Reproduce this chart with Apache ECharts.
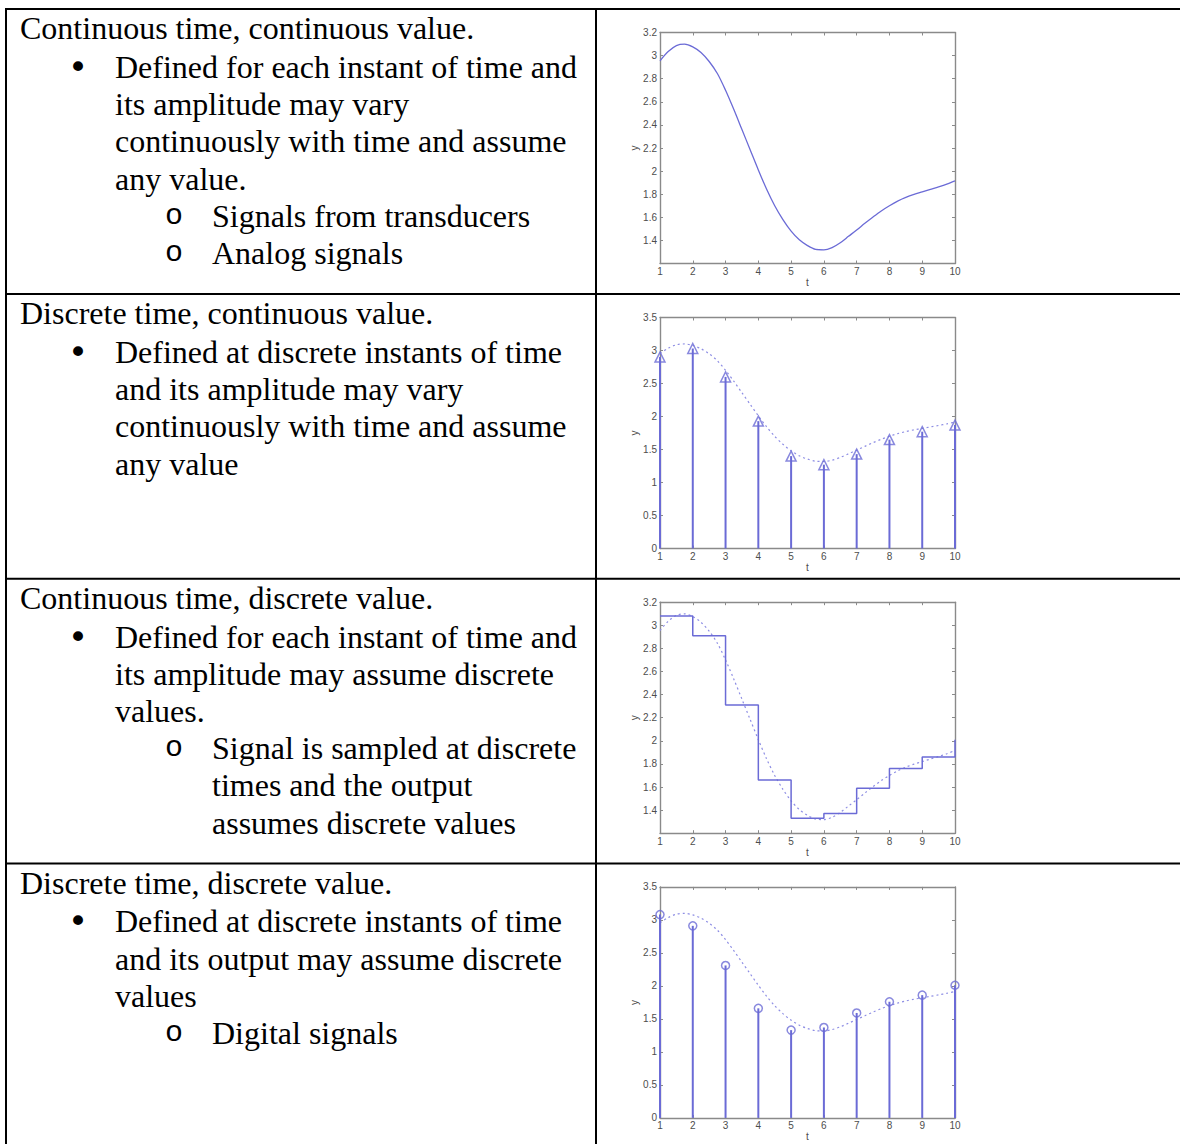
<!DOCTYPE html>
<html>
<head>
<meta charset="utf-8">
<title>Signal types</title>
<script src="https://cdn.jsdelivr.net/npm/echarts@6/dist/echarts.min.js"></script>
<style>
  html, body { margin: 0; padding: 0; background: #fff; }
  #chart { width: 1180px; height: 1144px; }
</style>
</head>
<body>
<div id="chart"></div>
<script>
// ---- data ----
// continuous signal y(t)
const curveT = [1, 1.25, 1.5, 1.75, 2, 2.25, 2.5, 2.75, 3, 3.25, 3.5, 3.75, 4, 4.25, 4.5, 4.75,
  5, 5.25, 5.5, 5.75, 6, 6.25, 6.5, 6.75, 7, 7.25, 7.5, 7.75, 8, 8.25, 8.5, 8.75, 9, 9.25, 9.5, 9.75, 10];
const curveY = [2.955, 3.035, 3.087, 3.099, 3.076, 3.027, 2.949, 2.845, 2.70, 2.535, 2.36, 2.185,
  2.01, 1.845, 1.70, 1.58, 1.48, 1.405, 1.355, 1.322, 1.318, 1.338, 1.38, 1.435, 1.49, 1.548,
  1.603, 1.655, 1.70, 1.74, 1.772, 1.798, 1.82, 1.842, 1.864, 1.888, 1.916];
// sampling instants
const sampleT = [1, 2, 3, 4, 5, 6, 7, 8, 9, 10];
// samples with continuous amplitude
const sampledY = [2.90, 3.03, 2.60, 1.93, 1.40, 1.27, 1.43, 1.65, 1.77, 1.87];
// quantised samples
const quantY = [3.08, 2.91, 2.31, 1.66, 1.33, 1.37, 1.59, 1.76, 1.86, 2.01];

// table text: T = heading, B = bullet, b = bullet continuation, S = sub-bullet, s = continuation
const row1Text = [
  ['T', 'Continuous time, continuous value.'],
  ['B', 'Defined for each instant of time and'],
  ['b', 'its amplitude may vary'],
  ['b', 'continuously with time and assume'],
  ['b', 'any value.'],
  ['S', 'Signals from transducers'],
  ['S', 'Analog signals']
];
const row2Text = [
  ['T', 'Discrete time, continuous value.'],
  ['B', 'Defined at discrete instants of time'],
  ['b', 'and its amplitude may vary'],
  ['b', 'continuously with time and assume'],
  ['b', 'any value']
];
const row3Text = [
  ['T', 'Continuous time, discrete value.'],
  ['B', 'Defined for each instant of time and'],
  ['b', 'its amplitude may assume discrete'],
  ['b', 'values.'],
  ['S', 'Signal is sampled at discrete'],
  ['s', 'times and the output'],
  ['s', 'assumes discrete values']
];
const row4Text = [
  ['T', 'Discrete time, discrete value.'],
  ['B', 'Defined at discrete instants of time'],
  ['b', 'and its output may assume discrete'],
  ['b', 'values'],
  ['S', 'Digital signals']
];

// ---- layout ----
const W = 1180, H = 1144;
const rowTops = [9, 294, 578.7, 863.4];
const colX = 596;
const plotLeft = 660, plotW = 295, plotH = 231;
const BLUE = '#6b6bd6';
const DOT_BLUE = '#8e8ee4';
const AXIS_GREY = '#8a8a8a';
const LABEL_GREY = '#4d4d4d';

const pair = (xs, ys) => xs.map((x, i) => [x, ys[i]]);

const graphic = [];
// table rules
const rule = (x1, y1, x2, y2) => graphic.push({
  type: 'line', silent: true,
  shape: { x1, y1, x2, y2 },
  style: { stroke: '#000', lineWidth: 2 }
});
rule(6, 8, 6, H);
rule(colX, 8, colX, H);
rule(5, 9, W, 9);
rowTops.slice(1).forEach(y => rule(5, y, W, y));

// table text
const textX = { T: 20, B: 115, b: 115, S: 212, s: 212 };
const serif = '"Liberation Serif", "Times New Roman", serif';
function addText(lines, top) {
  lines.forEach((ln, i) => {
    const y = top + 19.5 + i * 37.2 + (i > 0 ? 1.5 : 0) - 0.3;
    graphic.push({
      type: 'text', silent: true,
      style: { text: ln[1], x: textX[ln[0]], y, fill: '#000',
        font: '32px ' + serif, align: 'left', verticalAlign: 'middle' }
    });
    if (ln[0] === 'B') {
      graphic.push({
        type: 'text', silent: true,
        style: { text: '\u2022', x: 68, y, fill: '#000',
          font: '34px "DejaVu Sans", sans-serif', align: 'left', verticalAlign: 'middle' }
      });
    } else if (ln[0] === 'S') {
      graphic.push({
        type: 'text', silent: true,
        style: { text: 'o', x: 165, y, fill: '#000',
          font: '30px "Liberation Mono", monospace', align: 'left', verticalAlign: 'middle' }
      });
    }
  });
}
[row1Text, row2Text, row3Text, row4Text].forEach((r, i) => addText(r, rowTops[i]));

// ---- plots ----
const yRanges = [
  { min: 1.2, max: 3.2, interval: 0.2, hideMin: true },
  { min: 0, max: 3.5, interval: 0.5, hideMin: false },
  { min: 1.2, max: 3.2, interval: 0.2, hideMin: true },
  { min: 0, max: 3.5, interval: 0.5, hideMin: false }
];
const grids = [], xAxes = [], yAxes = [], series = [];
const tick = { show: true, inside: true, length: 3, lineStyle: { color: AXIS_GREY, width: 1 } };
const axLine = { show: true, onZero: false, lineStyle: { color: AXIS_GREY, width: 1.4 } };
const lbl = { color: LABEL_GREY, fontSize: 10, fontFamily: '"Liberation Sans", Arial, sans-serif' };

yRanges.forEach((yr, g) => {
  grids.push({ left: plotLeft, top: rowTops[g] + 23.5, width: plotW, height: plotH, containLabel: false });
  xAxes.push({
    gridIndex: g, type: 'value', min: 1, max: 10, interval: 1, position: 'bottom',
    axisLine: axLine, axisTick: tick, splitLine: { show: false },
    axisLabel: Object.assign({ margin: 3 }, lbl),
    name: 't', nameLocation: 'middle', nameGap: 14, nameTextStyle: lbl
  });
  xAxes.push({
    gridIndex: g, type: 'value', min: 1, max: 10, interval: 1, position: 'top',
    axisLine: axLine, axisTick: tick, splitLine: { show: false }, axisLabel: { show: false }
  });
  yAxes.push({
    gridIndex: g, type: 'value', min: yr.min, max: yr.max, interval: yr.interval, position: 'left',
    axisLine: axLine, axisTick: tick, splitLine: { show: false },
    axisLabel: Object.assign({ margin: 3, showMinLabel: !yr.hideMin }, lbl),
    name: 'y', nameLocation: 'middle', nameGap: 21, nameRotate: 90, nameTextStyle: lbl
  });
  yAxes.push({
    gridIndex: g, type: 'value', min: yr.min, max: yr.max, interval: yr.interval, position: 'right',
    axisLine: axLine, axisTick: tick, splitLine: { show: false }, axisLabel: { show: false }
  });
});

const ax = g => ({ xAxisIndex: 2 * g, yAxisIndex: 2 * g });
const curveData = pair(curveT, curveY);

// 1: continuous time, continuous value
series.push(Object.assign({
  type: 'line', data: curveData, smooth: 0.3, showSymbol: false,
  lineStyle: { color: BLUE, width: 1.3 }
}, ax(0)));

// dotted reference curve on plots 2-4
[1, 2, 3].forEach(g => series.push(Object.assign({
  type: 'line', data: curveData, smooth: 0.3, showSymbol: false, z: 1,
  lineStyle: { color: DOT_BLUE, width: 1.2, type: [2, 3] }
}, ax(g))));

// stems
function stems(g, ys, symbol) {
  series.push(Object.assign({
    type: 'bar', data: pair(sampleT, ys), barWidth: 2, clip: false,
    itemStyle: { color: BLUE }
  }, ax(g)));
  series.push(Object.assign({
    type: 'scatter', data: pair(sampleT, ys), symbol, symbolSize: symbol === 'triangle' ? 10 : 8,
    clip: false, z: 5,
    itemStyle: { color: 'rgba(255,255,255,0)', borderColor: BLUE, borderWidth: 1.5 }
  }, ax(g)));
}
// 2: discrete time, continuous value
stems(1, sampledY, 'triangle');
// 3: continuous time, discrete value (zero-order hold)
series.push(Object.assign({
  type: 'line', data: pair(sampleT, quantY), step: 'end', showSymbol: false, z: 3,
  lineStyle: { color: BLUE, width: 1.5 }
}, ax(2)));
// 4: discrete time, discrete value
stems(3, quantY, 'circle');

const chart = echarts.init(document.getElementById('chart'), null, { renderer: 'svg', width: W, height: H });
chart.setOption({
  backgroundColor: '#fff',
  animation: false,
  grid: grids,
  xAxis: xAxes,
  yAxis: yAxes,
  series,
  graphic
});
</script>
</body>
</html>
